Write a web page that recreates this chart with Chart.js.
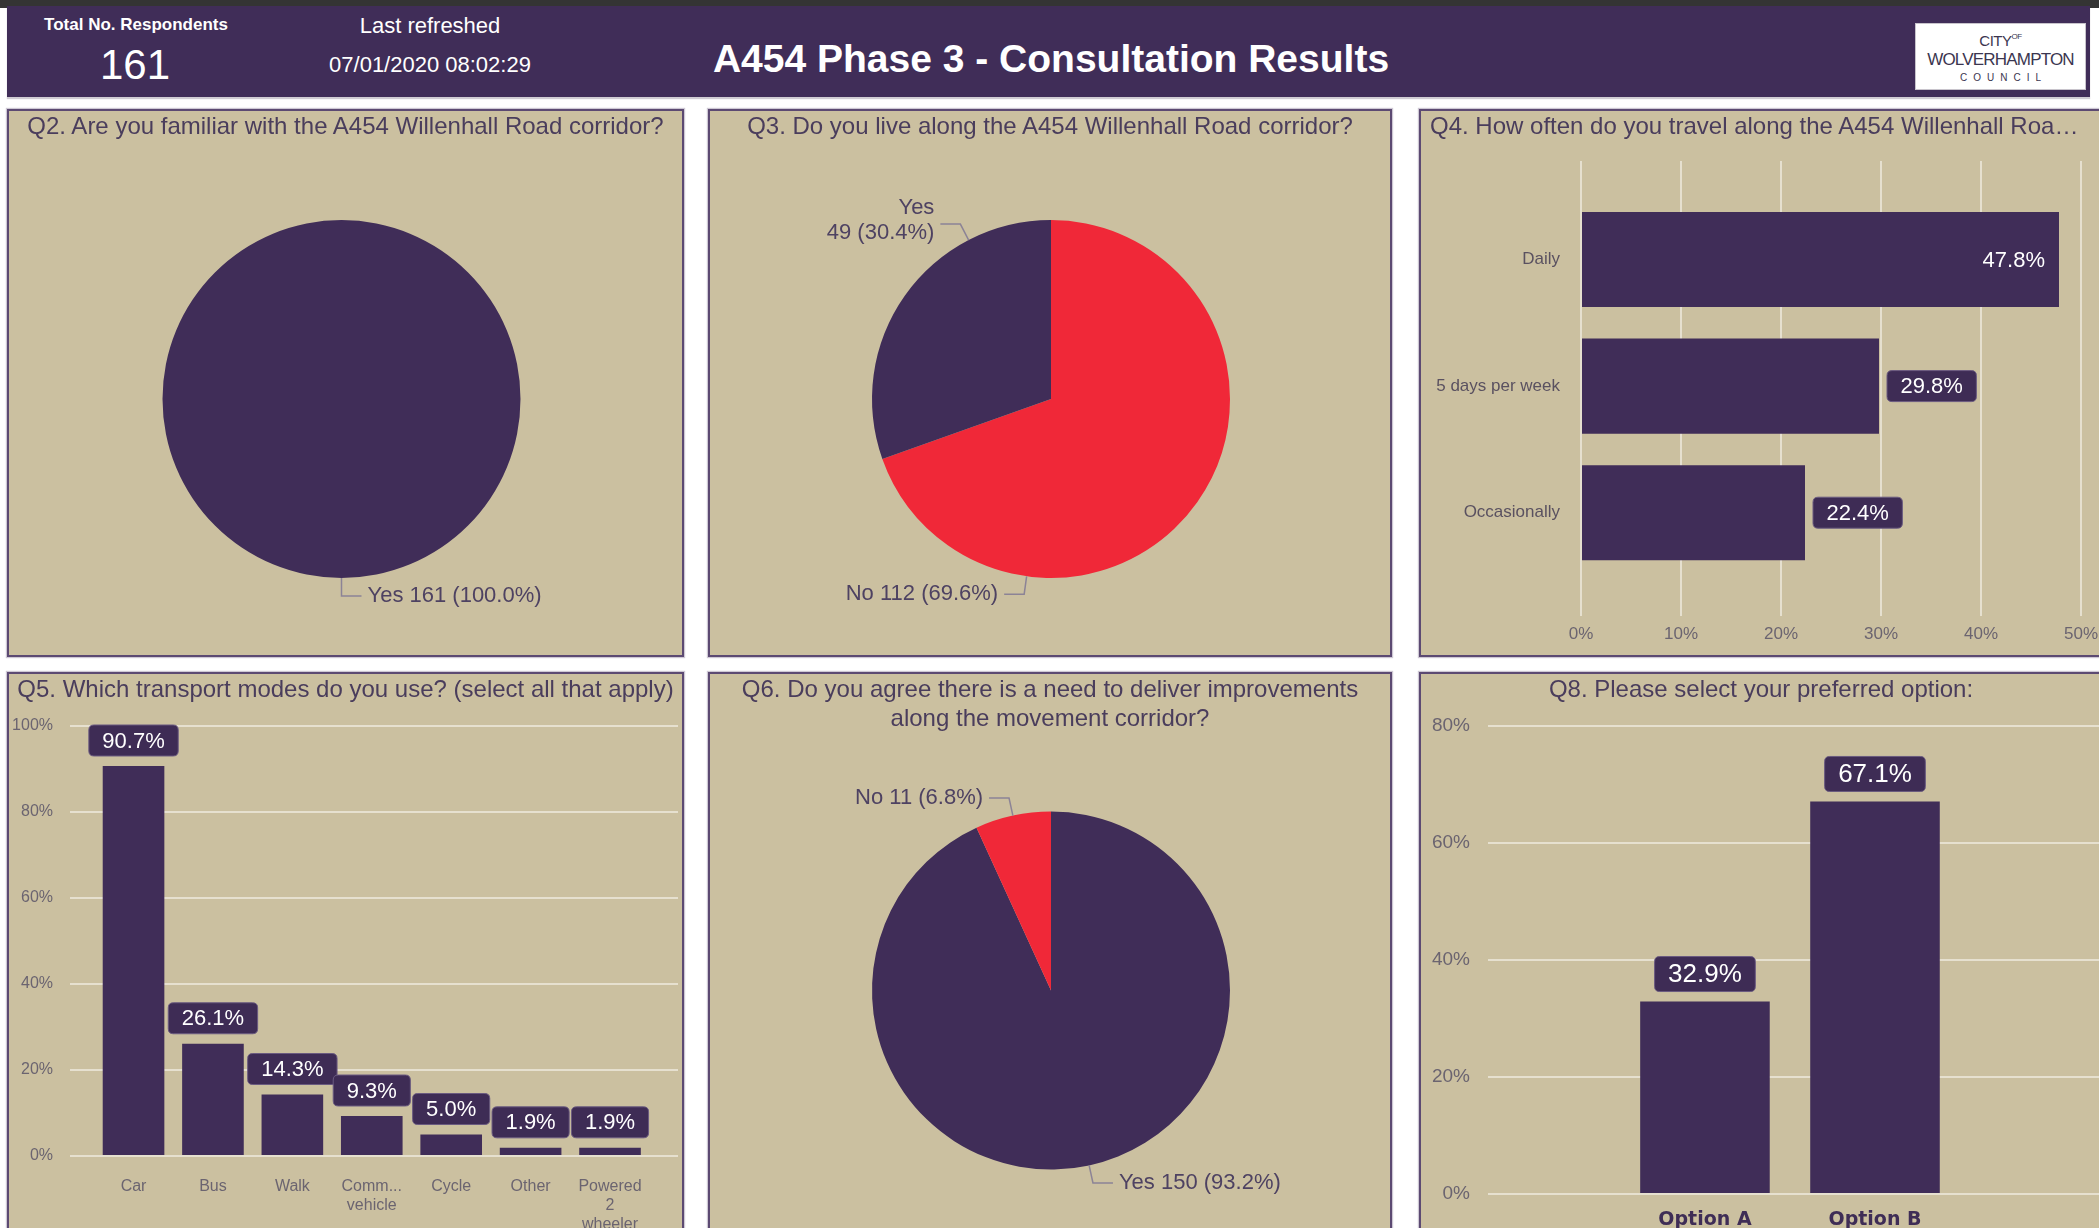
<!DOCTYPE html>
<html>
<head>
<meta charset="utf-8">
<script src="https://cdn.jsdelivr.net/npm/chart.js@4.4.1/dist/chart.umd.min.js"></script>
<style>
html, body { margin: 0; padding: 0; background: #fff; width: 2099px; height: 1228px; overflow: hidden; font-family: 'Liberation Sans', Arial, sans-serif; }
#topbar { position: absolute; left: 0; top: 0; width: 2099px; height: 8px; background: #343434; }
#header { position: absolute; left: 7px; top: 6px; width: 2083px; height: 91px; background: #402d58; color: #fff; box-shadow: 0 2px 1px rgba(120,110,130,0.35); }
.hc { position: absolute; transform: translate(-50%, -50%); white-space: nowrap; line-height: 1; }
#logo { position: absolute; left: 1908px; top: 17px; width: 171px; height: 67px; background: #fff; border: 1px solid #c8c4cc; box-sizing: border-box; color: #3b3650; text-align: center; }
.panel { position: absolute; background: #cbc0a0; border: 2px solid #5c4a72; box-sizing: border-box; overflow: hidden; box-shadow: 0 0 1px 1px rgba(92,74,114,0.3); }
.panel canvas { position: absolute; left: 0; top: 0; }
.ptitle { position: absolute; left: 0; right: 0; top: 0; text-align: center; color: #4a3d5c; font-size: 24px; line-height: 29px; white-space: nowrap; z-index: 2; }
</style>
</head>
<body>
<div id="topbar"></div>
<div id="header">
  <div class="hc" style="left:129px;top:18px;font-size:17px;font-weight:bold;">Total No. Respondents</div>
  <div class="hc" id="respondents" style="left:128px;top:59px;font-size:42px;"></div>
  <div class="hc" style="left:423px;top:20px;font-size:22px;">Last refreshed</div>
  <div class="hc" id="refreshed" style="left:423px;top:59px;font-size:22px;"></div>
  <div class="hc" style="left:1044px;top:52px;font-size:39px;font-weight:bold;">A454 Phase 3 - Consultation Results</div>
  <div id="logo">
    <div style="font-size:15px;margin-top:9px;line-height:1;letter-spacing:-0.5px;">CITY<span style="font-size:8px;vertical-align:top;">OF</span></div>
    <div style="font-size:17px;line-height:1;margin-top:3px;letter-spacing:-0.8px;">WOLVERHAMPTON</div>
    <div style="font-size:10px;line-height:1;margin-top:5px;letter-spacing:6px;padding-left:6px;">COUNCIL</div>
  </div>
</div>

<div class="panel" style="left:7px;top:109px;width:677px;height:548px;">
  <div class="ptitle">Q2. Are you familiar with the A454 Willenhall Road corridor?</div>
  <canvas id="q2" width="673" height="544"></canvas>
</div>
<div class="panel" style="left:708px;top:109px;width:684px;height:548px;">
  <div class="ptitle">Q3. Do you live along the A454 Willenhall Road corridor?</div>
  <canvas id="q3" width="680" height="544"></canvas>
</div>
<div class="panel" style="left:1419px;top:109px;width:684px;height:548px;">
  <div class="ptitle" style="text-align:left;left:9px;right:auto;width:661px;overflow:hidden;text-overflow:ellipsis;">Q4. How often do you travel along the A454 Willenhall Road corridor?</div>
  <canvas id="q4" width="700" height="544"></canvas>
</div>
<div class="panel" style="left:7px;top:672px;width:677px;height:600px;">
  <div class="ptitle">Q5. Which transport modes do you use? (select all that apply)</div>
  <canvas id="q5" width="673" height="596"></canvas>
</div>
<div class="panel" style="left:708px;top:672px;width:684px;height:600px;">
  <div class="ptitle">Q6. Do you agree there is a need to deliver improvements<br>along the movement corridor?</div>
  <canvas id="q6" width="680" height="596"></canvas>
</div>
<div class="panel" style="left:1419px;top:672px;width:684px;height:600px;">
  <div class="ptitle">Q8. Please select your preferred option:</div>
  <canvas id="q8" width="700" height="596"></canvas>
</div>

<script>
// header values
const totalRespondents = 161;
const lastRefreshed = '07/01/2020 08:02:29';

// Q2 / Q3 / Q6 pies (counts)
const q2Labels = ['Yes'];
const q2Counts = [161];
const q3Labels = ['No', 'Yes'];
const q3Counts = [112, 49];
const q6Labels = ['Yes', 'No'];
const q6Counts = [150, 11];

// Q4 horizontal bars (%)
const q4Labels = ['Daily', '5 days per week', 'Occasionally'];
const q4Values = [47.8, 29.8, 22.4];

// Q5 column chart (%)
const q5Labels = ['Car', 'Bus', 'Walk', ['Comm...', 'vehicle'], 'Cycle', 'Other', ['Powered', '2', 'wheeler']];
const q5Values = [90.7, 26.1, 14.3, 9.3, 5.0, 1.9, 1.9];

// Q8 column chart (%)
const q8Labels = ['Option A', 'Option B'];
const q8Values = [32.9, 67.1];

const PURPLE = '#402d58';
const RED = '#f02838';
const GRID = '#e6e0cf';
const TICK = '#6b6470';
const FONT = "'Liberation Sans', Arial, sans-serif";
const sliceColor = { Yes: PURPLE, No: RED };

document.getElementById('respondents').textContent = totalRespondents;
document.getElementById('refreshed').textContent = lastRefreshed;

Chart.defaults.font.family = FONT;

// leader-line labels for the pies
const pieLabels = {
    id: 'pieLabels',
    afterDatasetsDraw(chart, args, opts) {
        const ctx = chart.ctx;
        const ds = chart.data.datasets[0];
        const total = ds.data.reduce((a, b) => a + b, 0);
        ctx.save();
        ctx.font = '22px ' + FONT;
        ctx.textBaseline = 'middle';
        chart.getDatasetMeta(0).data.forEach((arc, i) => {
            const p = arc.getProps(['x', 'y', 'startAngle', 'endAngle', 'outerRadius'], true);
            const a = p.startAngle + (p.endAngle - p.startAngle) * opts.fraction;
            const cos = Math.cos(a), sin = Math.sin(a);
            const ax = p.x + cos * p.outerRadius, ay = p.y + sin * p.outerRadius;
            const ex = ax + cos * 18, ey = ay + sin * 18;
            const dir = cos < -1e-6 ? -1 : 1;
            const hx = ex + dir * 20;
            ctx.strokeStyle = '#8c8396';
            ctx.lineWidth = 1.5;
            ctx.beginPath();
            ctx.moveTo(ax, ay);
            ctx.lineTo(ex, ey);
            ctx.lineTo(hx, ey);
            ctx.stroke();
            const name = chart.data.labels[i];
            const value = ds.data[i] + ' (' + (ds.data[i] / total * 100).toFixed(1) + '%)';
            const lines = (opts.twoLine || []).includes(name) ? [name, value] : [name + ' ' + value];
            ctx.fillStyle = '#4e4262';
            ctx.textAlign = dir < 0 ? 'right' : 'left';
            const y0 = ey - (lines.length - 1) * 25 / 2 - (lines.length - 1) * 4;
            lines.forEach((t, k) => ctx.fillText(t, hx + dir * 6, y0 + k * 25));
        });
        ctx.restore();
    }
};

function roundBox(ctx, x, y, w, h, r) {
    ctx.beginPath();
    ctx.moveTo(x + r, y);
    ctx.lineTo(x + w - r, y);
    ctx.quadraticCurveTo(x + w, y, x + w, y + r);
    ctx.lineTo(x + w, y + h - r);
    ctx.quadraticCurveTo(x + w, y + h, x + w - r, y + h);
    ctx.lineTo(x + r, y + h);
    ctx.quadraticCurveTo(x, y + h, x, y + h - r);
    ctx.lineTo(x, y + r);
    ctx.quadraticCurveTo(x, y, x + r, y);
    ctx.closePath();
}

// boxed % labels on the bars
const barLabels = {
    id: 'barLabels',
    afterDatasetsDraw(chart, args, opts) {
        const ctx = chart.ctx, area = chart.chartArea;
        const horizontal = chart.options.indexAxis === 'y';
        const ds = chart.data.datasets[0];
        const fs = opts.fontSize;
        ctx.save();
        ctx.font = fs + 'px ' + FONT;
        ctx.textBaseline = 'middle';
        chart.getDatasetMeta(0).data.forEach((bar, i) => {
            const v = horizontal ? ds.data[i].x : ds.data[i].y;
            const text = v.toFixed(1) + '%';
            const w = ctx.measureText(text).width + 27, h = fs + 9;
            let bx, by;
            if (horizontal) {
                bx = bar.x + 8; by = bar.y - h / 2;
                if (bx + w > area.right) {
                    ctx.fillStyle = '#fff';
                    ctx.textAlign = 'right';
                    ctx.fillText(text, bar.x - 14, bar.y + 1);
                    return;
                }
            } else {
                bx = bar.x - w / 2; by = bar.y - 10 - h;
            }
            roundBox(ctx, bx, by, w, h, 5);
            ctx.fillStyle = '#3e2c55';
            ctx.fill();
            ctx.strokeStyle = '#6a5a80';
            ctx.lineWidth = 1;
            ctx.stroke();
            ctx.fillStyle = '#fff';
            ctx.textAlign = 'center';
            ctx.fillText(text, bx + w / 2, by + h / 2 + 1);
        });
        ctx.restore();
    }
};

function pieChart(id, labels, counts, padding, labelOpts) {
    new Chart(document.getElementById(id), {
        type: 'pie',
        data: {
            labels: labels,
            datasets: [{
                data: counts,
                backgroundColor: labels.map(l => sliceColor[l]),
                borderWidth: 0
            }]
        },
        options: {
            responsive: false,
            animation: false,
            layout: { padding: padding },
            plugins: {
                legend: { display: false },
                tooltip: { enabled: false },
                pieLabels: labelOpts
            }
        },
        plugins: [pieLabels]
    });
}

pieChart('q2', q2Labels, q2Counts, { left: 153.5, right: 161.5, top: 109, bottom: 77 }, { fraction: 0.5 });
pieChart('q3', q3Labels, q3Counts, { left: 162, right: 160, top: 109, bottom: 77 }, { fraction: 0.75, twoLine: ['Yes'] });
pieChart('q6', q6Labels, q6Counts, { left: 162, right: 160, top: 137.5, bottom: 100.5 }, { fraction: 0.5 });

// Q4
new Chart(document.getElementById('q4'), {
    type: 'bar',
    data: {
        datasets: [{
            data: q4Values.map((v, i) => ({ x: v, y: i })),
            backgroundColor: PURPLE,
            barPercentage: 0.751,
            categoryPercentage: 1
        }]
    },
    options: {
        indexAxis: 'y',
        responsive: false,
        animation: false,
        layout: { padding: { top: 50, right: 40, bottom: 0, left: 0 } },
        plugins: { legend: { display: false }, tooltip: { enabled: false }, barLabels: { fontSize: 22 } },
        scales: {
            x: {
                min: 0, max: 50,
                grid: { color: GRID, lineWidth: 2, drawTicks: false },
                border: { display: false },
                ticks: { stepSize: 10, callback: v => v + '%', color: TICK, font: { size: 17 }, padding: 8 },
                afterFit: s => { s.height = 39; }
            },
            y: {
                type: 'linear', reverse: true, min: -0.778, max: 2.816, offset: false,
                grid: { display: false, offset: false },
                border: { display: false },
                afterBuildTicks: s => { s.ticks = q4Labels.map((_, i) => ({ value: i })); },
                ticks: { callback: v => q4Labels[v], color: '#5a5160', font: { size: 17 }, padding: 13, autoSkip: false },
                afterFit: s => { s.width = 160; }
            }
        }
    },
    plugins: [barLabels]
});

// Q5
new Chart(document.getElementById('q5'), {
    type: 'bar',
    data: {
        datasets: [{
            data: q5Values.map((v, i) => ({ x: i, y: v })),
            backgroundColor: PURPLE,
            barPercentage: 0.776,
            categoryPercentage: 1
        }]
    },
    options: {
        responsive: false,
        animation: false,
        layout: { padding: { top: 52, right: 4, bottom: 0, left: 0 } },
        plugins: { legend: { display: false }, tooltip: { enabled: false }, barLabels: { fontSize: 22 } },
        scales: {
            x: {
                type: 'linear', min: -0.80, max: 6.856, offset: false,
                grid: { display: false, offset: false },
                border: { display: false },
                afterBuildTicks: s => { s.ticks = q5Labels.map((_, i) => ({ value: i })); },
                ticks: { callback: v => q5Labels[v], color: TICK, font: { size: 16 }, padding: 13, autoSkip: false, maxRotation: 0 },
                afterFit: s => { s.height = 114; }
            },
            y: {
                min: 0, max: 100,
                grid: { color: GRID, lineWidth: 2, drawTicks: false },
                border: { display: false },
                ticks: { stepSize: 20, callback: v => v + '%', color: TICK, font: { size: 16 }, padding: 17 },
                afterFit: s => { s.width = 61; }
            }
        }
    },
    plugins: [barLabels]
});

// Q8
new Chart(document.getElementById('q8'), {
    type: 'bar',
    data: {
        datasets: [{
            data: q8Values.map((v, i) => ({ x: i, y: v })),
            backgroundColor: PURPLE,
            barPercentage: 0.762,
            categoryPercentage: 1
        }]
    },
    options: {
        responsive: false,
        animation: false,
        layout: { padding: { top: 52, right: 10, bottom: 0, left: 0 } },
        plugins: { legend: { display: false }, tooltip: { enabled: false }, barLabels: { fontSize: 26 } },
        scales: {
            x: {
                type: 'linear', min: -1.276, max: 2.388, offset: false,
                grid: { display: false, offset: false },
                border: { display: false },
                afterBuildTicks: s => { s.ticks = q8Labels.map((_, i) => ({ value: i })); },
                ticks: { callback: v => q8Labels[v], color: '#3f2d56', font: { size: 19, weight: 'bold', family: "'DejaVu Sans', sans-serif" }, padding: 7, autoSkip: false, maxRotation: 0 },
                afterFit: s => { s.height = 76; }
            },
            y: {
                min: 0, max: 80,
                grid: { color: GRID, lineWidth: 2, drawTicks: false },
                border: { display: false },
                ticks: { stepSize: 20, callback: v => v + '%', color: TICK, font: { size: 19 }, padding: 18 },
                afterFit: s => { s.width = 67; }
            }
        }
    },
    plugins: [barLabels]
});
</script>
</body>
</html>
